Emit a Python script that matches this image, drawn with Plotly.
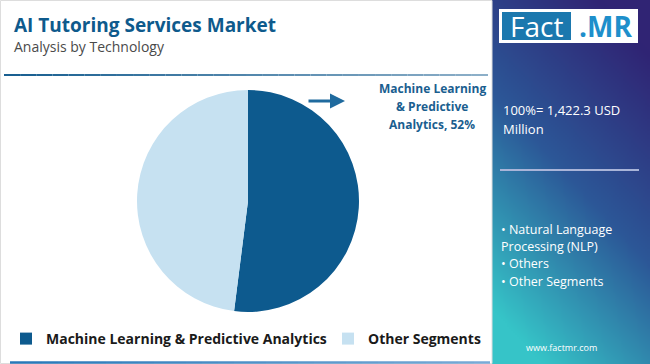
import struct, zlib, base64
import plotly.graph_objects as go

# ---- data ----
segments = ["Machine Learning & Predictive Analytics", "Other Segments"]
shares = [52, 48]
seg_colors = ["#0D5A8E", "#C6E1F1"]
callout_lines = ["Machine Learning", "& Predictive", "Analytics, 52%"]
total_lines = ["100%= 1,422.3 USD", "Million"]
other_items = ["• Natural Language", "Processing (NLP)", "• Others", "• Other Segments"]

W, H = 650, 364
def X(p): return p / W
def Y(p): return 1 - p / H

# ---- gradient panel image ----
def make_png(w, h, fn):
    raw = bytearray()
    for j in range(h):
        raw.append(0)
        for i in range(w):
            raw.extend(fn(i / (w - 1), j / (h - 1)))
    def chunk(t, d):
        c = struct.pack(">I", len(d)) + t + d
        return c + struct.pack(">I", zlib.crc32(t + d) & 0xffffffff)
    png = b"\x89PNG\r\n\x1a\n" + chunk(b"IHDR", struct.pack(">IIBBBBB", w, h, 8, 2, 0, 0, 0))
    png += chunk(b"IDAT", zlib.compress(bytes(raw), 9)) + chunk(b"IEND", b"")
    return "data:image/png;base64," + base64.b64encode(png).decode()

top = (48, 36, 116)
mid = (44, 88, 152)
bot = (54, 196, 200)
def grad(u, v):
    t = 0.85 * v + 0.4 * (1 - u) - 0.12
    t = max(0.0, min(1.0, t))
    if t < 0.5:
        a, b, s = top, mid, t / 0.5
    else:
        a, b, s = mid, bot, (t - 0.5) / 0.5
    return bytes(int(a[k] + (b[k] - a[k]) * s) for k in range(3))

panel = make_png(79, 182, grad)

fig = go.Figure()
fig.add_trace(go.Pie(
    labels=segments, values=shares, sort=False, direction="clockwise", rotation=0,
    marker=dict(colors=seg_colors, line=dict(width=0)),
    textinfo="none", hoverinfo="label+percent",
    domain=dict(x=[X(137), X(359)], y=[Y(312), Y(90)]),
))

shapes = []
shapes.append(dict(type="rect", xref="paper", yref="paper", x0=X(0.5), x1=X(492), y0=Y(363.5), y1=Y(0.5),
                   line=dict(color="#DDDDDD", width=1), layer="below"))
def grad_line(x0, x1, y, c0, c1, n=30, w=2):
    for k in range(n):
        s = k / (n - 1)
        col = "rgb(%d,%d,%d)" % tuple(int(c0[i] + (c1[i] - c0[i]) * s) for i in range(3))
        xa = x0 + (x1 - x0) * k / n
        xb = x0 + (x1 - x0) * (k + 1) / n
        shapes.append(dict(type="line", xref="paper", yref="paper", x0=X(xa), x1=X(xb), y0=Y(y), y1=Y(y),
                           line=dict(color=col, width=w)))
grad_line(4, 488, 75, (25, 95, 145), (140, 175, 200))
grad_line(10, 490, 362.5, (40, 120, 185), (120, 170, 215), w=2.5)
shapes.append(dict(type="line", xref="paper", yref="paper", x0=X(500), x1=X(639), y0=Y(170), y1=Y(170),
                   line=dict(color="#A9B4D8", width=2)))
shapes.append(dict(type="rect", xref="paper", yref="paper", x0=X(499), x1=X(638), y0=Y(43), y1=Y(9),
                   fillcolor="white", line=dict(width=0)))
shapes.append(dict(type="rect", xref="paper", yref="paper", x0=X(502), x1=X(571), y0=Y(40), y1=Y(12),
                   fillcolor="#1B78AE", line=dict(width=0)))

ann = []
F = "Open Sans"
ann.append(dict(text="<b>AI Tutoring Services Market</b>", x=X(12), y=Y(25), xanchor="left", yanchor="middle",
                font=dict(family=F, size=19, color="#0E5A8C")))
ann.append(dict(text="Analysis by Technology", x=X(12), y=Y(47), xanchor="left", yanchor="middle",
                font=dict(family=F, size=14, color="#4A4A4A")))
for i, line in enumerate(callout_lines):
    ann.append(dict(text="<b>" + line + "</b>", x=X(432), y=Y(88 + 18 * i), xanchor="center", yanchor="middle",
                    font=dict(family=F, size=12, color="#1A5E8F")))
ann.append(dict(text="", x=X(345), y=Y(101), ax=-38, ay=0, showarrow=True, arrowhead=2, arrowsize=1,
                arrowwidth=3, arrowcolor="#1F6A9E"))
for i, line in enumerate(total_lines):
    ann.append(dict(text=line, x=X(501), y=Y(110 + 19 * i), xanchor="left", yanchor="middle",
                    font=dict(family=F, size=13, color="white")))
for i, line in enumerate(other_items):
    ann.append(dict(text=line, x=X(499), y=Y(229 + 17.4 * i), xanchor="left", yanchor="middle",
                    font=dict(family=F, size=12.5, color="white")))
ann.append(dict(text="www.factmr.com", x=X(561), y=Y(347), xanchor="center", yanchor="middle",
                font=dict(family=F, size=9, color="white")))
ann.append(dict(text="Fact", x=X(536.5), y=Y(26.5), xanchor="center", yanchor="middle",
                font=dict(family=F, size=28, color="white")))
ann.append(dict(text="<b>.MR</b>", x=X(605), y=Y(26.5), xanchor="center", yanchor="middle",
                font=dict(family=F, size=28, color="#1E8FCB")))
for a in ann:
    a.setdefault("showarrow", False)
    a["xref"] = "paper"; a["yref"] = "paper"

fig.update_layout(
    width=W, height=H, margin=dict(l=0, r=0, t=0, b=0),
    paper_bgcolor="white", plot_bgcolor="white",
    shapes=shapes, annotations=ann,
    images=[dict(source=panel, xref="paper", yref="paper", x=X(492), y=1, sizex=X(650) - X(492), sizey=1,
                 xanchor="left", yanchor="top", sizing="stretch", layer="below")],
    showlegend=True,
    legend=dict(orientation="h", x=X(7), y=Y(339), xanchor="left", yanchor="middle",
                entrywidth=277, entrywidthmode="pixels",
                font=dict(family=F, size=14, color="#1A1A1A", weight=700),
                bgcolor="rgba(0,0,0,0)", itemclick=False, itemdoubleclick=False),
)
fig.write_html("out.html", config={"displayModeBar": False},
               post_script="document.body.style.margin='0';document.body.style.overflow='hidden';")
